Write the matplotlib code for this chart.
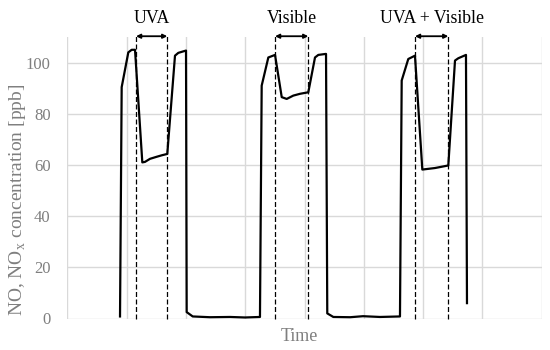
import matplotlib
matplotlib.use("Agg")
import matplotlib.pyplot as plt

plt.rcParams['font.family'] = ['Liberation Serif', 'DejaVu Serif']
plt.rcParams['mathtext.fontset'] = 'custom'
plt.rcParams['mathtext.rm'] = 'Liberation Serif'

# Time in grid units (8 divisions on the x axis), concentration in ppb
time = [0.889, 0.917, 1.029, 1.086, 1.142, 1.265, 1.310, 1.395, 1.508, 1.597, 1.686,
        1.816, 1.872, 2.002, 2.013, 2.115, 2.406, 2.744, 2.997, 3.249,
        3.278, 3.390, 3.503, 3.616, 3.700, 3.811, 3.924, 4.064, 4.177, 4.233, 4.363,
        4.384, 4.486, 4.769, 4.987, 5.273, 5.610,
        5.639, 5.750, 5.863, 5.987, 6.201, 6.425, 6.538, 6.594, 6.723, 6.740]
conc = [0.8, 90.4, 104.0, 105.0, 105.0, 61.0, 61.2, 62.4, 63.2, 63.8, 64.3,
        102.7, 103.8, 104.7, 2.5, 0.8, 0.5, 0.6, 0.4, 0.6,
        91.0, 102.0, 103.0, 86.5, 85.8, 87.1, 87.8, 88.4, 102.0, 103.0, 103.4,
        2.0, 0.6, 0.5, 0.9, 0.6, 0.8,
        93.0, 101.4, 102.7, 58.2, 58.8, 59.8, 100.8, 101.7, 103.0, 6.0]

# Illumination periods (start, end) and labels
light_start = [1.159, 3.503, 5.863]
light_end = [1.686, 4.064, 6.425]
light_labels = ['UVA', 'Visible', 'UVA + Visible']

y_ticks = [0, 20, 40, 60, 80, 100]

W, H = 550, 350
fig = plt.figure(figsize=(5.5, 3.5), dpi=100)
ax = fig.add_axes([67.3 / W, (H - 318.5) / H, (541.7 - 67.3) / W, (318.5 - 37) / H])

ax.set_xlim(0, 8)
ax.set_ylim(0, 110)
ax.set_xticks(range(0, 9))
ax.set_yticks(y_ticks)
ax.grid(True, color='#d9d9d9', linewidth=1.0)
ax.set_axisbelow(True)
for s in ax.spines.values():
    s.set_visible(False)
ax.tick_params(length=0, labelbottom=False, labelsize=12, labelcolor='#7f7f7f', pad=12)

ax.plot(time, conc, color='black', linewidth=1.6, solid_joinstyle='round')

for s, e, lab in zip(light_start, light_end, light_labels):
    for xv in (s, e):
        ax.plot([xv, xv], [0, 110.8], color='black', linewidth=0.9,
                dashes=(4, 2), clip_on=False)
    ax.annotate('', xy=(s, 110.3), xytext=(e, 110.3),
                arrowprops=dict(arrowstyle='<|-|>', color='black', lw=1.3,
                                mutation_scale=6, shrinkA=0, shrinkB=0),
                annotation_clip=False)
    ax.text((s + e) / 2, 117.3, lab, ha='center', va='center', fontsize=12.8,
            color='black', clip_on=False)

fig.text(299.5 / W, 1 - 336.5 / H, 'Time', ha='center', va='center',
         fontsize=13, color='#7f7f7f')
fig.text(18 / W, 1 - 200 / H, r'NO, NO$_{\mathregular{x}}$ concentration [ppb]',
         ha='center', va='center', rotation=90, fontsize=14, color='#7f7f7f')

fig.savefig('out.png', dpi=100)
